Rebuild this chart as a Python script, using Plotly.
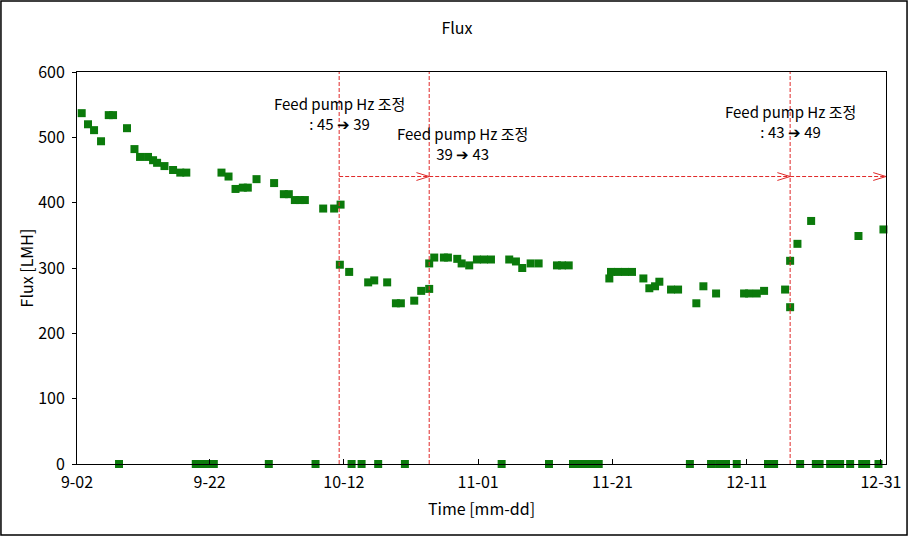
import plotly.graph_objects as go

# ---- data (x = days since 9-02 00:00) ----
flux_days = [0.95, 1.89, 2.79, 3.83, 4.98, 5.62, 7.70, 8.81, 9.64, 10.83, 11.58, 12.18, 13.28, 14.56,
             15.63, 16.53, 21.77, 22.82, 23.86, 24.95, 25.69, 26.99, 29.61, 31.06, 31.80, 32.70, 33.44,
             34.19, 36.92, 38.55, 39.51, 39.40, 40.79, 43.62, 44.52, 46.45, 47.75, 48.49, 50.48, 51.52,
             52.71, 52.71, 53.46, 54.90, 55.50, 56.89, 57.54, 58.67, 59.82, 60.86, 61.91, 64.63, 65.63,
             66.57, 67.82, 69.01, 71.74, 72.49, 73.49, 79.54, 79.79, 80.83, 81.88, 82.92, 84.61, 85.50,
             86.35, 86.99, 88.73, 89.78, 92.50, 93.55, 95.44, 99.61, 100.36, 101.50, 102.59, 105.72,
             106.47, 106.47, 107.56, 109.60, 116.65, 120.37]
flux_vals = [537, 520, 511, 494, 534, 534, 514, 482, 470, 470, 465, 461, 456, 450,
             446, 446, 446, 440, 421, 423, 423, 436, 430, 413, 413, 404, 404,
             404, 391, 391, 397, 305, 294, 278, 281, 278, 246, 246, 250, 265,
             268, 307, 316, 316, 316, 314, 307, 304, 313, 313, 313, 313, 310,
             300, 307, 307, 304, 304, 304, 284, 294, 294, 294, 294, 284, 269,
             272, 279, 267, 267, 246, 272, 261, 261, 261, 261, 265, 267,
             240, 311, 337, 372, 349, 359]

zero_days = [6.51, 17.94, 18.84, 19.73, 20.63, 28.82, 35.78, 41.15, 42.64, 45.11, 49.09, 63.50,
             70.55, 74.13, 75.02, 75.92, 76.81, 77.96, 91.54, 94.69, 95.88, 96.92, 98.52, 103.17,
             104.08, 107.96, 110.30, 110.86, 112.43, 113.32, 113.92, 115.41, 117.20, 117.79, 119.63]
zero_vals = [0] * len(zero_days)

tick_days = [0.25, 20, 40, 60, 80, 100, 120]
tick_labels = ["9-02", "9-22", "10-12", "11-01", "11-21", "12-11", "12-31"]

event_days = [39.30, 52.71, 106.47]
event_texts = ["Feed pump Hz 조정<br>: 45 ➔ 39", "Feed pump Hz 조정<br>39 ➔ 43", "Feed pump Hz 조정<br>: 43 ➔ 49"]
arrow_level = 440
x_end = 120.75

FONT = "Noto Sans CJK KR"
GREEN = "#0b7a0b"
RED = "#e02828"

fig = go.Figure()

all_x = flux_days + zero_days
all_y = flux_vals + zero_vals
fig.add_trace(go.Scatter(x=all_x, y=all_y, mode="markers",
                         marker=dict(symbol="square", size=8, color=GREEN, line=dict(width=0)),
                         cliponaxis=False, showlegend=False))

shapes = []
for d in event_days:
    shapes.append(dict(type="line", xref="x", yref="paper", x0=d, x1=d, y0=0, y1=1,
                       line=dict(color=RED, width=1, dash="4px,2px")))
ends = event_days[1:] + [x_end]
for s, e in zip(event_days, ends):
    shapes.append(dict(type="line", xref="x", yref="y", x0=s, x1=e, y0=arrow_level, y1=arrow_level,
                       line=dict(color=RED, width=1, dash="4px,2px")))
    fig.add_trace(go.Scatter(x=[e - 1.9, e, e - 1.9], y=[arrow_level + 6, arrow_level, arrow_level - 6],
                             mode="lines", line=dict(color=RED, width=1), showlegend=False,
                             hoverinfo="skip", cliponaxis=False))
shapes.append(dict(type="rect", xref="paper", yref="paper", x0=-0.094, x1=1.026, y0=-0.181, y1=1.181,
                   line=dict(color="black", width=1.5)))

annotations = []
ann_y = [536, 491, 524]
ann_shift = [0, 33, 0]
for d, t, yy, sh in zip(event_days, event_texts, ann_y, ann_shift):
    annotations.append(dict(x=d, y=yy, xref="x", yref="y", text=t, showarrow=False,
                            xshift=sh, xanchor="center", yanchor="middle", align="center",
                            font=dict(family=FONT, size=15, color="black")))

fig.update_layout(
    width=914, height=537,
    margin=dict(l=77, r=28, t=72, b=73),
    paper_bgcolor="white", plot_bgcolor="white",
    title=dict(text="Flux", x=0.5, xref="container", xanchor="center",
               y=1 - 28 / 537, yref="container", yanchor="middle",
               font=dict(family=FONT, size=16, color="black")),
    shapes=shapes, annotations=annotations,
    showlegend=False,
)
fig.update_xaxes(range=[0.25, x_end], tickvals=tick_days, ticktext=tick_labels,
                 showgrid=False, zeroline=False, showline=True, linecolor="black", linewidth=1,
                 mirror=True, ticks="inside", ticklen=5, tickcolor="black", ticklabelstandoff=4,
                 tickfont=dict(family=FONT, size=16, color="black"),
                 title=dict(text="Time [mm-dd]", font=dict(family=FONT, size=16, color="black"), standoff=11))
fig.update_yaxes(range=[0, 600], tickvals=[0, 100, 200, 300, 400, 500, 600],
                 showgrid=False, zeroline=False, showline=True, linecolor="black", linewidth=1,
                 mirror=True, ticks="outside", ticklen=4, tickcolor="black", ticklabelstandoff=4,
                 tickfont=dict(family=FONT, size=16, color="black"),
                 title=dict(text="Flux [LMH]", font=dict(family=FONT, size=16, color="black"), standoff=0))

fig.write_html("out.html")
